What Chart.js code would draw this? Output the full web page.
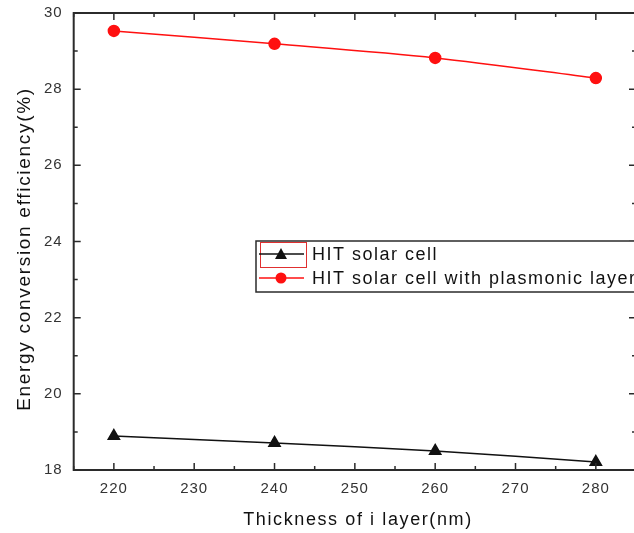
<!DOCTYPE html>
<html>
<head>
<meta charset="utf-8">
<script src="https://cdn.jsdelivr.net/npm/chart.js@4.4.1/dist/chart.umd.min.js"></script>
<style>
  html, body { margin: 0; padding: 0; background: #fff; overflow: hidden; }
  #wrap { width: 634px; height: 533px; overflow: hidden; }
  #wrap canvas { display: block; }
</style>
</head>
<body>
<div id="wrap"><canvas id="chart" width="644" height="533"></canvas></div>
<script>
// Data
const thickness = [220, 240, 260, 280];
const hitCell = [18.89, 18.71, 18.50, 18.21];
const hitPlasmonic = [29.53, 29.19, 28.82, 28.29];
const seriesLabels = ['HIT solar cell', 'HIT solar cell with plasmonic layer'];
const xTickValues = [220, 230, 240, 250, 260, 270, 280];
const yTickValues = [18, 20, 22, 24, 26, 28, 30];
const xTitle = 'Thickness of i layer(nm)';
const yTitle = 'Energy conversion efficiency(%)';

const axisColor = '#2b2b2b';
const fontFamily = '"Liberation Sans", Arial, sans-serif';

// Spaced-out text like the original (applies to tick labels too)
const spacingPlugin = {
  id: 'spacing',
  beforeDraw(chart) {
    chart.ctx.letterSpacing = '1px';
  }
};

// Box frame with inward major/minor ticks on all four sides, plus axis titles
const framePlugin = {
  id: 'frame',
  afterDraw(chart) {
    const { ctx, chartArea: a, scales } = chart;
    ctx.save();
    ctx.strokeStyle = axisColor;
    ctx.lineWidth = 2;
    ctx.strokeRect(a.left, a.top, a.right - a.left, a.bottom - a.top);

    ctx.lineWidth = 1.5;
    ctx.beginPath();
    for (let v = 215; v <= 285; v += 5) {
      const px = scales.x.getPixelForValue(v);
      const len = v % 10 === 0 ? 7 : 4;
      ctx.moveTo(px, a.bottom); ctx.lineTo(px, a.bottom - len);
      ctx.moveTo(px, a.top); ctx.lineTo(px, a.top + len);
    }
    for (let v = 18; v <= 30; v += 1) {
      const py = scales.y.getPixelForValue(v);
      const len = v % 2 === 0 ? 7 : 4;
      ctx.moveTo(a.left, py); ctx.lineTo(a.left + len, py);
      ctx.moveTo(a.right, py); ctx.lineTo(a.right - len, py);
    }
    ctx.stroke();

    // axis titles
    ctx.fillStyle = '#111';
    ctx.textAlign = 'center';
    ctx.textBaseline = 'middle';
    ctx.font = '18px ' + fontFamily;
    ctx.letterSpacing = '1.6px';
    ctx.fillText(xTitle, 358, 520);
    ctx.translate(25, 249);
    ctx.rotate(-Math.PI / 2);
    ctx.font = '19px ' + fontFamily;
    ctx.letterSpacing = '1.7px';
    ctx.fillText(yTitle, 0, 0);
    ctx.restore();
  }
};

// Legend box drawn inside the plot, like the original
const legendPlugin = {
  id: 'boxLegend',
  afterDraw(chart) {
    const { ctx } = chart;
    const x0 = 256, y0 = 241, w = 400, h = 51;
    ctx.save();
    ctx.fillStyle = '#fff';
    ctx.fillRect(x0, y0, w, h);
    ctx.strokeStyle = axisColor;
    ctx.lineWidth = 1.5;
    ctx.strokeRect(x0, y0, w, h);

    // red selection rectangle around the first symbol
    ctx.strokeStyle = '#e03030';
    ctx.lineWidth = 1;
    ctx.strokeRect(x0 + 4.5, y0 + 1.5, 46, 25);

    ctx.font = '18px ' + fontFamily;
    ctx.letterSpacing = '1.5px';
    ctx.textBaseline = 'middle';
    chart.data.datasets.forEach((ds, i) => {
      const cy = y0 + 13 + i * 24;
      ctx.strokeStyle = ds.borderColor;
      ctx.lineWidth = 1.5;
      ctx.beginPath();
      ctx.moveTo(x0 + 3, cy); ctx.lineTo(x0 + 48, cy);
      ctx.stroke();
      ctx.fillStyle = ds.pointBackgroundColor;
      const cx = x0 + 25;
      ctx.beginPath();
      if (ds.pointStyle === 'triangle') {
        ctx.moveTo(cx, cy - 6); ctx.lineTo(cx + 6, cy + 5); ctx.lineTo(cx - 6, cy + 5);
        ctx.closePath();
      } else {
        ctx.arc(cx, cy, 5.5, 0, Math.PI * 2);
      }
      ctx.fill();
      ctx.fillStyle = '#111';
      ctx.fillText(ds.label, x0 + 56, cy + 1);
    });
    ctx.restore();
  }
};

new Chart(document.getElementById('chart'), {
  type: 'line',
  data: {
    datasets: [
      {
        label: seriesLabels[0],
        data: thickness.map((t, i) => ({ x: t, y: hitCell[i] })),
        borderColor: '#111',
        backgroundColor: '#111',
        pointBackgroundColor: '#111',
        pointBorderColor: '#111',
        pointStyle: 'triangle',
        pointRadius: 6.5,
        borderWidth: 1.5,
        tension: 0.3
      },
      {
        label: seriesLabels[1],
        data: thickness.map((t, i) => ({ x: t, y: hitPlasmonic[i] })),
        borderColor: '#ff1010',
        backgroundColor: '#ff1010',
        pointBackgroundColor: '#ff1010',
        pointBorderColor: '#ff1010',
        pointStyle: 'circle',
        pointRadius: 5.5,
        borderWidth: 1.5,
        tension: 0.3
      }
    ]
  },
  options: {
    responsive: false,
    animation: false,
    layout: { padding: { top: 13, right: 7.5, left: 0, bottom: 0 } },
    plugins: { legend: { display: false }, tooltip: { enabled: false } },
    scales: {
      x: {
        type: 'linear',
        min: 215,
        max: 285,
        afterBuildTicks: s => { s.ticks = xTickValues.map(v => ({ value: v })); },
        afterFit: s => { s.height = 63; s.paddingLeft = 0; s.paddingRight = 0; },
        grid: { display: false, drawTicks: false },
        border: { display: false },
        ticks: {
          color: '#333',
          padding: 10,
          maxRotation: 0,
          font: { family: fontFamily, size: 15 }
        }
      },
      y: {
        type: 'linear',
        min: 18,
        max: 30,
        afterBuildTicks: s => { s.ticks = yTickValues.map(v => ({ value: v })); },
        afterFit: s => { s.width = 73.7; s.paddingTop = 0; s.paddingBottom = 0; },
        grid: { display: false, drawTicks: false },
        border: { display: false },
        ticks: {
          color: '#333',
          padding: 11,
          font: { family: fontFamily, size: 15 }
        }
      }
    }
  },
  plugins: [spacingPlugin, framePlugin, legendPlugin]
});
</script>
</body>
</html>
